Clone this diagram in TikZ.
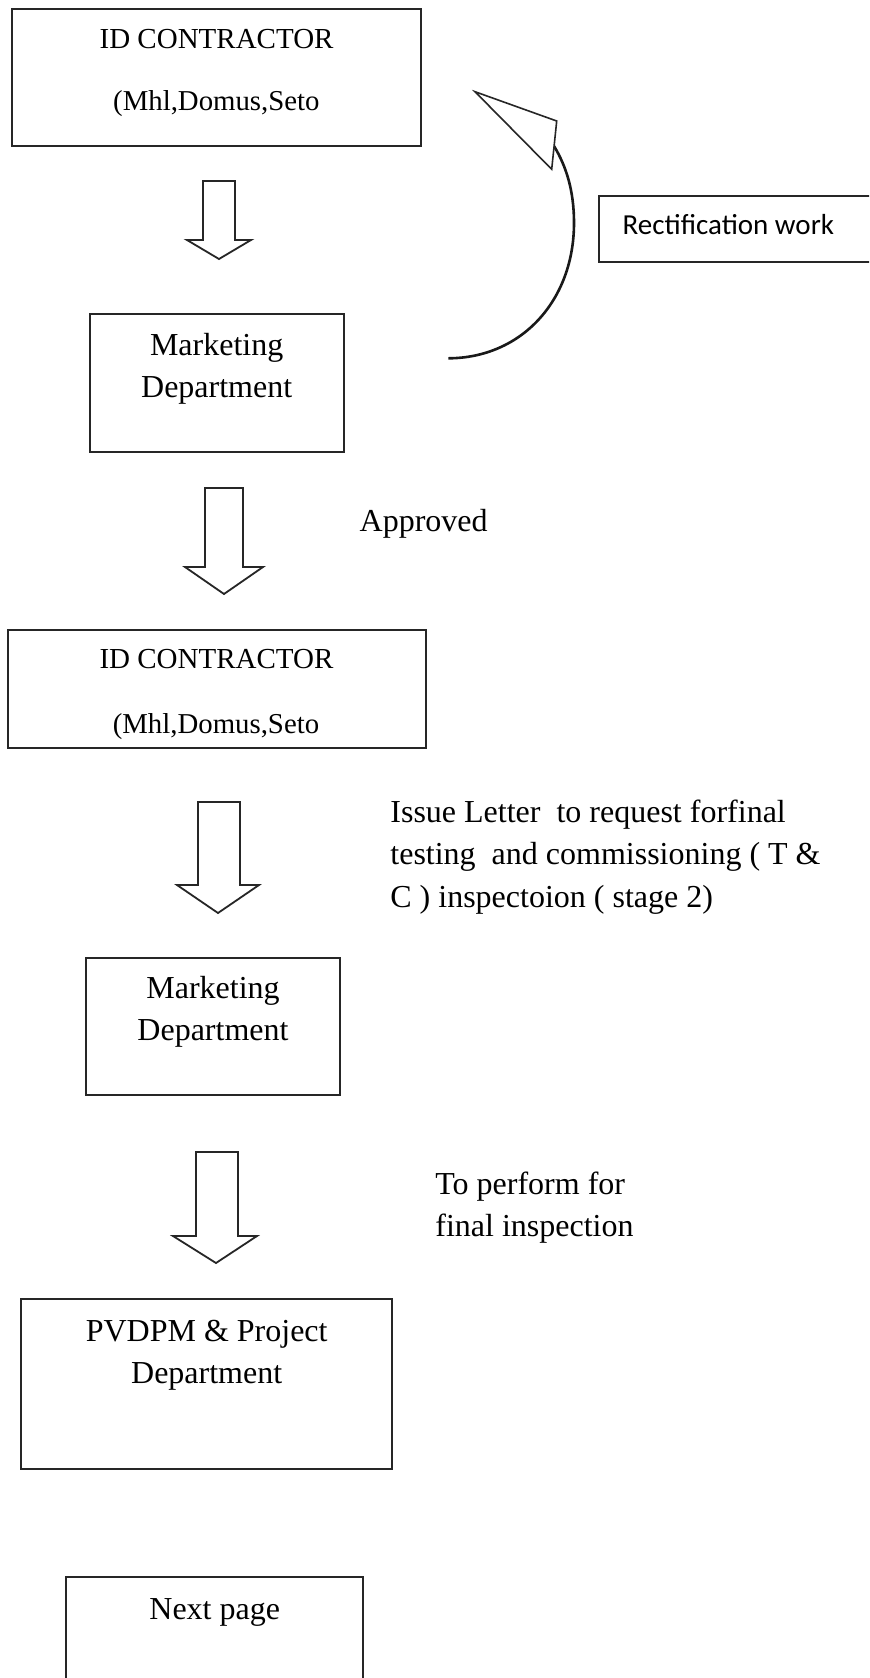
\documentclass[tikz,border=0pt]{standalone}
\usepackage{fontspec}
\setmainfont{Liberation Serif}
\newfontfamily\calib{Carlito}
\begin{document}
\begin{tikzpicture}[x=0.5pt,y=-0.5pt,
  box/.style={draw=black!85, line width=1pt, inner sep=0pt, rectangle},
  txt/.style={inner sep=0pt, anchor=base, font=\fontsize{16}{21}\selectfont},
  txtl/.style={inner sep=0pt, anchor=base west, font=\fontsize{16}{21}\selectfont},
  idtxt/.style={inner sep=0pt, anchor=base, font=\fontsize{14.5}{18}\selectfont},
  mhltxt/.style={inner sep=0pt, anchor=base, font=\fontsize{14.4}{18}\selectfont},
  sanstxt/.style={inner sep=0pt, anchor=base west, font=\calib\fontsize{14.5}{18}\selectfont},
  blk/.style={draw=black!85, line width=0.9pt, line join=miter, fill=white},
  curvearrow/.style={draw=black!90, line width=1.3pt},
  tri/.style={draw=black!85, line width=0.8pt, line join=miter, fill=white},
]
\useasboundingbox (0,0) rectangle (869,1678);
\clip (0,0) rectangle (869,1678);
\fill[white] (0,0) rectangle (869,1678);

% boxes
\node[box, minimum width=204.2pt, minimum height=68.3pt] (b1) at (216.4,77.7) {};
\node[box, minimum width=126.8pt, minimum height=69pt] (b2) at (216.7,383) {};
\node[box, minimum width=209.1pt, minimum height=59pt] (b3) at (216.9,689) {};
\node[box, minimum width=127pt, minimum height=68.3pt] (b4) at (213,1026.2) {};
\node[box, minimum width=185.3pt, minimum height=84.8pt] (b5) at (206.7,1384.2) {};
\node[box, minimum width=148.6pt, minimum height=71.3pt] (b6) at (214.4,1648.7) {};
\node[box, minimum width=150.3pt, minimum height=33pt] (rect) at (749.7,228.7) {};

% box texts
\node[idtxt] (t1a) at (216.6,48.3) {ID CONTRACTOR};
\node[mhltxt] (t1b) at (216.4,110.7) {(Mhl,Domus,Seto};
\node[txt] (t2a) at (216.7,355) {Marketing};
\node[txt] (t2b) at (216.7,397.3) {Department};
\node[idtxt] (t3a) at (216.5,668.5) {ID CONTRACTOR};
\node[mhltxt] (t3b) at (216,733.5) {(Mhl,Domus,Seto};
\node[txt] (t4a) at (213,998.5) {Marketing};
\node[txt] (t4b) at (213,1040.5) {Department};
\node[txt] (t5a) at (206.7,1341) {PVDPM \& Project};
\node[txt] (t5b) at (206.7,1383) {Department};
\node[txt] (t6a) at (214.7,1619) {Next page};
\node[sanstxt] (trect) at (622.3,234) {Rectification work};

% side labels
\node[txtl] (lap) at (359.3,531.7) {Approved};
\node[txtl] (lis1) at (390,822) {Issue Letter\ \ to request forfinal};
\node[txtl] (lis2) at (390,864.5) {testing\ \ and commissioning ( T \&};
\node[txtl] (lis3) at (390,907) {C ) inspectoion ( stage 2)};
\node[txtl] (lpf1) at (435,1194) {To perform for};
\node[txtl] (lpf2) at (435,1236.7) {final inspection};

% block arrows
\draw[blk] (203,181) -- (203,240) -- (187,240) -- (219,259) -- (251,240) -- (235,240) -- (235,181) -- cycle;
\draw[blk] (205,488) -- (205,567) -- (185,567) -- (224,594) -- (263,567) -- (243,567) -- (243,488) -- cycle;
\draw[blk] (198,802) -- (198,885) -- (177,885) -- (218,913) -- (259,885) -- (240,885) -- (240,802) -- cycle;
\draw[blk] (196,1152) -- (196,1236) -- (173,1236) -- (216,1263) -- (257,1236) -- (238,1236) -- (238,1152) -- cycle;

% rectification loop arrow
\coordinate (cs) at (448.3,358.3);
\coordinate (cm) at (574,223);
\coordinate (ce) at (554,146);
\draw[curvearrow] (cs) .. controls (522,358) and (574,300) .. (cm) .. controls (574,190) and (566,166) .. (ce);
\coordinate (tp1) at (475,91.7);
\coordinate (tp2) at (556.7,121);
\coordinate (tp3) at (551.7,169.3);
\draw[tri] (tp1) -- (tp2) -- (tp3) -- cycle;
\end{tikzpicture}
\end{document}
